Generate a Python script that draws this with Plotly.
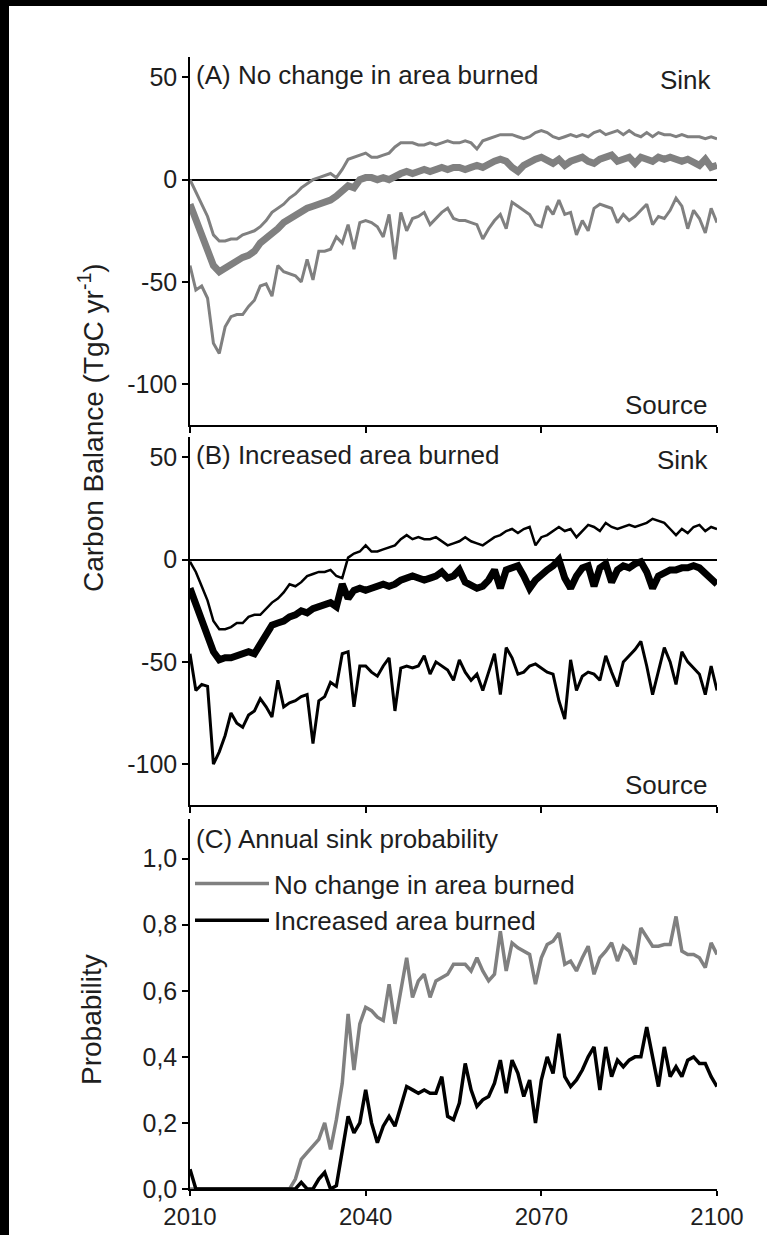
import plotly.graph_objects as go

YEARS = list(range(2010, 2101))

# Panel A: no change in area burned (TgC/yr)
A_UPPER = [0, -6, -12, -18, -27, -30, -30, -29, -29, -27,
           -26, -25, -23, -20, -16, -14, -12, -9, -7, -4,
           -2, 0, 1, 2, 3, 1, 5, 10, 11, 12,
           13, 11, 11, 12, 13, 16, 18, 18, 18, 17,
           17, 18, 17, 18, 19, 18, 18, 19, 18, 15,
           19, 20, 21, 22, 22, 22, 21, 20, 21, 23,
           24, 23, 21, 20, 21, 22, 21, 22, 21, 23,
           24, 22, 23, 24, 22, 24, 22, 21, 23, 21,
           23, 22, 22, 21, 22, 21, 21, 21, 20, 21, 20]
A_MEAN = [-12, -20, -28, -36, -42, -45, -43, -41, -40, -38,
          -37, -35, -31, -29, -26, -24, -21, -19, -17, -15,
          -14, -13, -12, -11, -10, -8, -5, -3, -4, 0,
          1, 1, 0, 1, 0, 2, 3, 4, 3, 4,
          5, 4, 5, 6, 5, 6, 6, 5, 6, 7,
          6, 8, 9, 10, 9, 6, 4, 7, 9, 10,
          11, 9, 8, 10, 7, 9, 10, 11, 9, 8,
          10, 11, 12, 9, 10, 11, 8, 11, 10, 9,
          11, 10, 11, 10, 9, 10, 8, 7, 10, 6, 7]
A_LOWER = [-42, -54, -52, -58, -80, -85, -72, -67, -66, -66,
           -62, -59, -52, -51, -57, -42, -45, -46, -47, -50,
           -39, -49, -35, -35, -34, -28, -31, -22, -34, -21,
           -20, -21, -23, -28, -17, -39, -16, -25, -19, -18,
           -16, -22, -19, -16, -14, -19, -20, -20, -21, -22,
           -29, -24, -20, -17, -24, -11, -13, -15, -17, -22,
           -23, -13, -17, -10, -17, -16, -27, -20, -25, -14,
           -12, -13, -14, -21, -17, -20, -18, -15, -12, -22,
           -18, -19, -15, -9, -13, -24, -15, -19, -26, -14, -21]

# Panel B: increased area burned (TgC/yr)
B_UPPER = [-1, -6, -13, -20, -30, -34, -34, -33, -31, -31,
           -28, -27, -27, -24, -21, -19, -16, -12, -13, -11,
           -8, -7, -6, -6, -5, -8, -9, 1, 3, 4,
           7, 4, 4, 5, 6, 7, 10, 12, 10, 11,
           10, 10, 11, 9, 7, 8, 9, 11, 9, 8,
           7, 9, 11, 12, 14, 15, 13, 15, 16, 7,
           11, 12, 14, 16, 14, 15, 11, 14, 17, 16,
           14, 18, 16, 15, 16, 17, 16, 17, 18, 20,
           19, 18, 15, 12, 15, 13, 16, 17, 14, 16, 15]
B_MEAN = [-14, -22, -30, -38, -45, -49, -48, -48, -47, -46,
          -45, -46, -41, -37, -32, -31, -30, -28, -27, -25,
          -26, -24, -23, -22, -21, -23, -12, -19, -15, -14,
          -15, -14, -13, -12, -13, -12, -10, -9, -8, -9,
          -10, -9, -8, -6, -9, -8, -5, -11, -13, -14,
          -13, -10, -5, -14, -5, -4, -3, -8, -14, -10,
          -7, -5, -3, 0, -9, -14, -8, -4, -3, -13,
          -4, -2, -11, -5, -3, -4, -2, -1, -6, -14,
          -8, -6, -5, -5, -4, -4, -3, -4, -7, -10, -12]
B_LOWER = [-46, -64, -61, -62, -100, -94, -86, -75, -80, -82,
           -76, -74, -68, -72, -77, -59, -72, -70, -69, -67,
           -66, -90, -69, -67, -60, -62, -46, -45, -72, -52,
           -52, -55, -57, -52, -48, -74, -53, -52, -53, -52,
           -47, -56, -50, -52, -54, -59, -49, -55, -59, -56,
           -64, -55, -46, -66, -43, -48, -56, -55, -52, -51,
           -53, -55, -56, -69, -78, -49, -64, -57, -55, -56,
           -59, -47, -55, -62, -50, -47, -44, -40, -52, -66,
           -55, -43, -50, -61, -45, -50, -53, -56, -66, -52, -64]

# Panel C: annual sink probability
P_NO_CHANGE = [0] * 17 + [
    0.0, 0.03, 0.09,
    0.11, 0.13, 0.15, 0.20, 0.12, 0.21, 0.32, 0.53, 0.36, 0.50,
    0.55, 0.54, 0.52, 0.51, 0.62, 0.50, 0.60, 0.70, 0.58, 0.63,
    0.65, 0.58, 0.63, 0.64, 0.65, 0.68, 0.68, 0.68, 0.66, 0.70,
    0.66, 0.63, 0.65, 0.78, 0.66, 0.745, 0.73, 0.72, 0.71, 0.62,
    0.70, 0.74, 0.75, 0.775, 0.68, 0.69, 0.66, 0.70, 0.735, 0.65,
    0.70, 0.72, 0.745, 0.69, 0.735, 0.72, 0.68, 0.79, 0.76, 0.735,
    0.735, 0.74, 0.74, 0.825, 0.72, 0.71, 0.71, 0.70, 0.67, 0.745,
    0.71]
P_INCREASED = [0.06] + [0] * 18 + [
    0.02,
    0.0, 0.0, 0.03, 0.05, 0.0, 0.01, 0.12, 0.22, 0.17, 0.20,
    0.30, 0.20, 0.14, 0.19, 0.22, 0.19, 0.25, 0.31, 0.30, 0.29,
    0.30, 0.29, 0.29, 0.34, 0.22, 0.21, 0.26, 0.38, 0.30, 0.25,
    0.27, 0.28, 0.32, 0.39, 0.29, 0.39, 0.35, 0.28, 0.33, 0.20,
    0.33, 0.40, 0.35, 0.47, 0.34, 0.31, 0.33, 0.36, 0.40, 0.43,
    0.30, 0.43, 0.34, 0.39, 0.37, 0.39, 0.40, 0.40, 0.49, 0.40,
    0.31, 0.43, 0.34, 0.37, 0.34, 0.39, 0.40, 0.38, 0.38, 0.34,
    0.31]

X_TICKS = [2010, 2040, 2070, 2100]
X_TICK_TEXT = ["2010", "2040", "2070", "2100"]
CB_TICKS = [-100, -50, 0, 50]
CB_TICK_TEXT = ["-100", "-50", "0", "50"]
P_TICKS = [0.0, 0.2, 0.4, 0.6, 0.8, 1.0]
P_TICK_TEXT = ["0,0", "0,2", "0,4", "0,6", "0,8", "1,0"]

GREY = "rgb(128,128,128)"
BLACK = "black"
TXT = "#1e1e1e"
FONT = "Liberation Sans, Arial, sans-serif"

W, H = 767, 1235
ML, MR = 190, 50
PW = W - ML - MR


def px(x):
    return (x - ML) / PW


def py(y):
    return 1 - y / H


fig = go.Figure()

def add(x, y, color, width, xa, ya, name=None, legend=False):
    fig.add_trace(go.Scatter(x=x, y=y, mode="lines", xaxis=xa, yaxis=ya,
                             line=dict(color=color, width=width),
                             name=name, showlegend=legend, hoverinfo="skip"))

add(YEARS, A_UPPER, GREY, 3, "x", "y")
add(YEARS, A_LOWER, GREY, 3, "x", "y")
add(YEARS, A_MEAN, GREY, 7, "x", "y")
add(YEARS, B_UPPER, BLACK, 2.5, "x2", "y2")
add(YEARS, B_LOWER, BLACK, 3, "x2", "y2")
add(YEARS, B_MEAN, BLACK, 7, "x2", "y2")
add(YEARS, P_NO_CHANGE, GREY, 3.5, "x3", "y3", "No change in area burned", True)
add(YEARS, P_INCREASED, BLACK, 3.5, "x3", "y3", "Increased area burned", True)

axis_common = dict(showline=True, linecolor="black", linewidth=1.5, ticks="outside",
                   ticklen=6, tickwidth=1.5, tickcolor="black", showgrid=False,
                   automargin=False,
                   tickfont=dict(family=FONT, size=25, color=TXT))

xcommon = dict(axis_common, range=[2010, 2100], tickvals=X_TICKS, ticktext=X_TICK_TEXT,
               zeroline=False)

fig.update_layout(
    width=W, height=H,
    margin=dict(l=ML, r=MR, t=0, b=0, autoexpand=False),
    paper_bgcolor="white", plot_bgcolor="white",
    font=dict(family=FONT, color=TXT),
    xaxis=dict(xcommon, domain=[0, 1], anchor="y", showticklabels=False),
    xaxis2=dict(xcommon, domain=[0, 1], anchor="y2", showticklabels=False),
    xaxis3=dict(xcommon, domain=[0, 1], anchor="y3", ticklen=5,
                tickfont=dict(family=FONT, size=24, color=TXT)),
    yaxis=dict(axis_common, domain=[py(425), py(57)], range=[-120, 60], tickvals=CB_TICKS,
               ticktext=CB_TICK_TEXT, zeroline=True, zerolinecolor="black",
               zerolinewidth=1.5, anchor="x"),
    yaxis2=dict(axis_common, domain=[py(805), py(437)], range=[-120, 60], tickvals=CB_TICKS,
                ticktext=CB_TICK_TEXT, zeroline=True, zerolinecolor="black",
                zerolinewidth=1.5, anchor="x2"),
    yaxis3=dict(axis_common, domain=[py(1189), py(819)], range=[0, 1.12], tickvals=P_TICKS,
                ticktext=P_TICK_TEXT, zeroline=False, anchor="x3"),
    legend=dict(x=px(190), y=py(860), xanchor="left", yanchor="top",
                bgcolor="rgba(0,0,0,0)", font=dict(family=FONT, size=26, color=TXT),
                tracegroupgap=0, itemwidth=74),
    showlegend=True,
)

ann = []
def label(text, x, y, anchor="left", size=26, angle=0):
    ann.append(dict(text=text, x=px(x), y=py(y), xref="paper", yref="paper",
                    xanchor=anchor, yanchor="middle", showarrow=False,
                    textangle=angle, font=dict(family=FONT, size=size, color=TXT)))

label("(A) No change in area burned", 194, 75)
label("Sink", 714, 80, "right")
label("Source", 709, 405, "right")
label("(B) Increased area burned", 194, 455)
label("Sink", 711, 460, "right")
label("Source", 709, 785, "right")
label("(C) Annual sink probability", 194, 839)
label("Carbon Balance (TgC yr<sup>-1</sup>)", 91, 428, "center", 28, -90)
label("Probability", 91, 1020, "center", 28, -90)
fig.update_layout(annotations=ann)

# black frame strips at left and top of the scanned figure
fig.update_layout(shapes=[
    dict(type="rect", xref="paper", yref="paper", x0=px(0), x1=px(9), y0=py(H), y1=py(0),
         fillcolor="black", line=dict(width=0), layer="above"),
    dict(type="rect", xref="paper", yref="paper", x0=px(0), x1=px(W), y0=py(6), y1=py(0),
         fillcolor="black", line=dict(width=0), layer="above"),
])

fig.write_html("out.html")
